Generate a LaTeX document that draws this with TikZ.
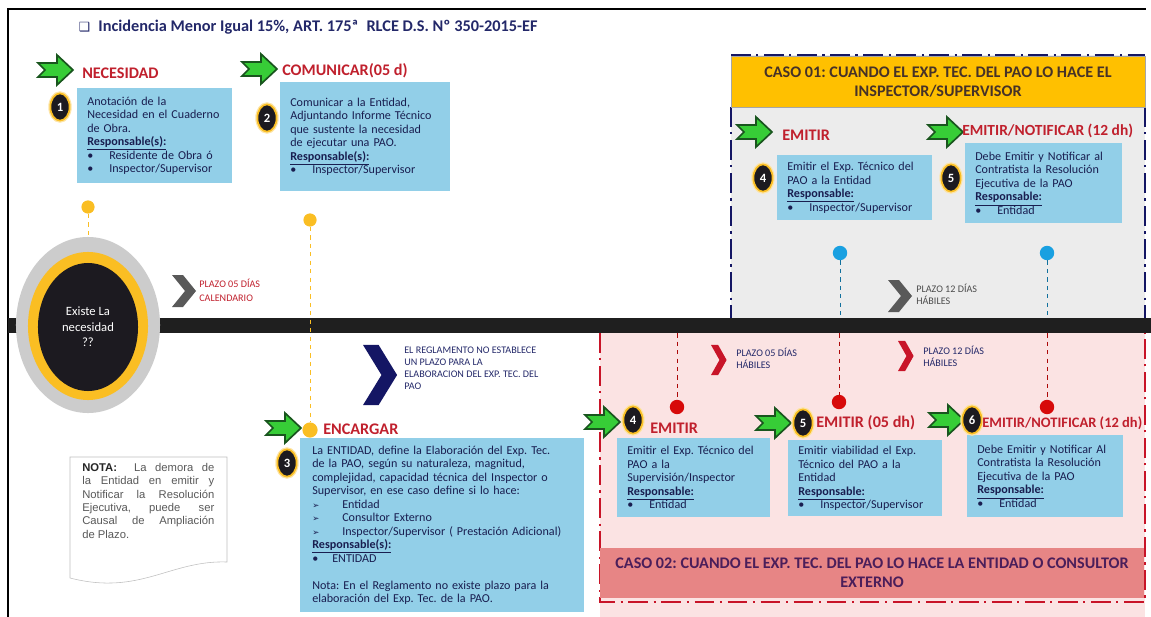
\documentclass[tikz,border=0pt]{standalone}
\usepackage{fontspec}
\setmainfont{Carlito}
\newfontfamily\arialfont{Liberation Sans}
\newfontfamily\dejavu{DejaVu Sans}
\usepackage{tikz}
\usetikzlibrary{shapes.geometric,calc}
\AtBeginDocument{\frenchspacing}

\definecolor{cajaazul}{RGB}{146,207,232}
\definecolor{textonavy}{RGB}{25,30,80}
\definecolor{rojotitulo}{RGB}{192,32,45}
\definecolor{azultitulo}{RGB}{35,40,105}
\definecolor{naranja}{RGB}{255,192,0}
\definecolor{fondogris}{RGB}{236,236,236}
\definecolor{fondorosa}{RGB}{251,227,227}
\definecolor{salmon}{RGB}{231,133,133}
\definecolor{azuloscuro}{RGB}{20,22,100}
\definecolor{rojoborde}{RGB}{200,20,40}
\definecolor{puntoazul}{RGB}{25,160,225}
\definecolor{puntorojo}{RGB}{215,10,10}
\definecolor{amarillo}{RGB}{250,190,35}
\definecolor{verdeflecha}{RGB}{55,205,55}
\definecolor{verdeoscuro}{RGB}{25,85,30}
\definecolor{oscuro}{RGB}{28,26,32}
\definecolor{cafe}{RGB}{70,50,40}
\definecolor{morado}{RGB}{75,30,90}

\newcommand{\itm}[1]{\makebox[0.55cm][l]{•}#1}
\newcommand{\flechita}[1]{\makebox[0.75cm][l]{{\dejavu\fontsize{6}{8}\selectfont ➢}}#1}
\newcommand{\resp}[1]{\textbf{\underline{#1}}}

\tikzset{
  caja/.style={fill=cajaazul, text=textonavy, font=\fontsize{8.6}{9.6}\selectfont,
    align=left, anchor=north west, inner xsep=0.25cm, inner ysep=0pt, text width=#1},
  etiqueta/.style={anchor=west, text=rojotitulo, inner sep=0pt,
    font=\fontsize{11.5}{13}\bfseries\selectfont},
  num/.style={ellipse, fill=oscuro, draw=amarillo, line width=1.2pt,
    preaction={draw=amarillo!40, line width=3pt}, text=white, inner sep=0pt,
    minimum width=0.48cm, minimum height=0.68cm, font=\fontsize{9}{10}\bfseries\selectfont},
  punto/.style={circle, fill=#1, inner sep=0pt, minimum size=0.36cm},
  guia/.style={draw=#1, dashed, line width=0.6pt},
  borde/.style={draw=#1, line width=2pt, dash pattern=on 14pt off 4pt on 1.5pt off 4pt},
  plazo/.style={anchor=west, align=left, inner sep=0pt, text=#1,
    font=\fontsize{7.2}{8.5}\selectfont},
  caso/.style={fill=#1, minimum height=1.27cm, inner sep=0pt, align=center,
    font=\fontsize{11.5}{13.5}\bfseries\selectfont},
  pics/flecha/.style={code={
    \filldraw[fill=verdeflecha, draw=verdeoscuro, line width=1.2pt, line join=miter]
      (0,-7) -- (19,-7) -- (19,-15) -- (35,0) -- (19,15) -- (19,7) -- (0,7) -- (7,0) -- cycle;}},
  pics/chevron/.style={code={
    \fill[#1] (0,-16) -- (11,-16) -- (24,0) -- (11,16) -- (0,16) -- (13,0) -- cycle;}},
}

\begin{document}
\begin{tikzpicture}[x=0.025cm,y=-0.025cm]
\useasboundingbox (0,0) rectangle (1151,617);

% Frame and title
\draw[line width=1pt] (8,617) -- (8,9) -- (1146,9);
\node[anchor=west, text=azultitulo, font=\fontsize{11.6}{13}\bfseries\selectfont] (titulo) at (74,27)
  {{\dejavu\mdseries\fontsize{9}{10}\selectfont ❑}\enspace Incidencia Menor Igual 15\%, ART. 175ª\enspace RLCE D.S. Nº 350-2015-EF};

% Case areas
\fill[fondogris] (731,55) rectangle (1145,318);
\fill[fondorosa] (600,333) rectangle (1145,617);
\draw[borde=azuloscuro] (731,55) -- (1145,55);
\draw[borde=azuloscuro] (731,107) -- (731,318);
\draw[borde=azuloscuro] (1145,107) -- (1145,318);
\draw[borde=rojoborde] (600,333) -- (600,602) -- (1145,602) -- (1145,333);
\node[caso=naranja, draw=gray!70, text=cafe, minimum width=10.35cm] (caso1) at (938,82)
  {CASO 01: CUANDO EL EXP. TEC. DEL PAO LO HACE EL\\INSPECTOR/SUPERVISOR};
\node[caso=salmon, text=morado, minimum width=13.6cm] (caso2) at (872,573)
  {CASO 02: CUANDO EL EXP. TEC. DEL PAO LO HACE LA ENTIDAD O CONSULTOR\\EXTERNO};

% Timeline
\node[fill=black!88, anchor=west, inner sep=0pt, minimum width=28.575cm, minimum height=0.375cm] (barra) at (8,325.5) {};
\node[ellipse, fill=gray!40, inner sep=0pt, minimum width=3.6cm, minimum height=4.4cm] (ovalo) at (88,325) {};
\node[ellipse, fill=amarillo, inner sep=0pt, minimum width=3cm, minimum height=3.7cm] (anillo) at (88,326) {};
\node[ellipse, fill=oscuro, inner sep=0pt, minimum width=2.5cm, minimum height=3.2cm, text=white, align=center,
  font=\fontsize{9}{11}\selectfont] (centro) at (88,327) {Existe La\\necesidad\\??};

% Dots
\node[punto=amarillo, minimum size=0.33cm] (p1) at (88,207) {};
\node[punto=amarillo, minimum size=0.33cm] (p2) at (310,220) {};
\node[punto=amarillo, minimum size=0.38cm] (p3) at (310,430) {};
\node[punto=puntoazul] (b1) at (840,253) {};
\node[punto=puntoazul] (b2) at (1047,253) {};
\node[punto=puntorojo] (r1) at (677,407) {};
\node[punto=puntorojo] (r2) at (839,402) {};
\node[punto=puntorojo] (r3) at (1047,407) {};
\draw[guia=amarillo] (p1) -- (ovalo);
\draw[guia=amarillo] (p2) -- (p3);
\foreach \p in {b1,b2}
  \draw[guia=puntoazul!70!black] (\p) -- (\p |- barra.north);
\foreach \p in {r1,r2,r3}
  \draw[guia=puntorojo!80!black] (\p |- barra.south) -- (\p);

% Plazos
\pic at (172,291) {chevron={black!65}};
\node[plazo=rojotitulo, font=\fontsize{7.2}{10}\selectfont] (plazo1) at (199,290) {PLAZO 05 DÍAS\\CALENDARIO};
\pic at (888,296) {chevron={black!65}};
\node[plazo=black!70] (plazo2) at (916,294) {PLAZO 12 DÍAS\\HÁBILES};
\pic[xscale=0.65,yscale=0.94] at (711,360) {chevron={rojoborde}};
\node[plazo=azultitulo] (plazo3) at (736,358) {PLAZO 05 DÍAS\\HÁBILES};
\pic[xscale=0.65,yscale=0.94] at (898,356) {chevron={rojoborde}};
\node[plazo=azultitulo] (plazo4) at (923,356) {PLAZO 12 DÍAS\\HÁBILES};
\pic[xscale=1.42,yscale=1.88] at (363,375) {chevron={azuloscuro}};
\node[plazo=azultitulo] (plazo5) at (404,368)
  {EL REGLAMENTO NO ESTABLECE\\UN PLAZO PARA LA\\ELABORACION DEL EXP. TEC. DEL\\PAO};

% Step boxes
\node[caja=3.375cm, minimum height=2.375cm] (caja1) at (77,88)
  {Anotación de la\\Necesidad en el Cuaderno\\de Obra.\\\resp{Responsable(s):}\\\itm{Residente de Obra ó}\\\itm{Inspector/Supervisor}};
\node[caja=3.75cm, minimum height=2.725cm] (caja2) at (280,82)
  {Comunicar a la Entidad,\\Adjuntando Informe Técnico\\que sustente la necesidad\\de ejecutar una PAO.\\\resp{Responsable(s):}\\\itm{Inspector/Supervisor}};
\node[caja=6.5cm, minimum height=4.35cm, inner xsep=0.3cm] (caja3) at (300,438)
  {La ENTIDAD, define la Elaboración del Exp. Tec.\\de la PAO, según su naturaleza, magnitud,\\complejidad, capacidad técnica del Inspector o\\Supervisor, en ese caso define si lo hace:\\\flechita{Entidad}\\\flechita{Consultor Externo}\\\flechita{Inspector/Supervisor ( Prestación Adicional)}\\\resp{Responsable(s):}\\\makebox[0.5cm][l]{•}ENTIDAD\\[9.6pt]Nota: En el Reglamento no existe plazo para la\\elaboración del Exp. Tec. de la PAO.};
\node[caja=3.375cm, minimum height=1.625cm] (caja4s) at (777,155)
  {Emitir el Exp. Técnico del\\PAO a la Entidad\\\resp{Responsable:}\\\itm{Inspector/Supervisor}};
\node[caja=3.425cm, minimum height=2cm] (caja5s) at (965,143)
  {Debe Emitir y Notificar al\\Contratista la Resolución\\Ejecutiva de la PAO\\\resp{Responsable:}\\\itm{Entidad}};
\node[caja=3.325cm, minimum height=1.975cm] (caja4i) at (617,438)
  {Emitir el Exp. Técnico del\\PAO a la\\Supervisión/Inspector\\\resp{Responsable:}\\\itm{Entidad}};
\node[caja=3.35cm, minimum height=1.9cm] (caja5i) at (788,440)
  {Emitir viabilidad el Exp.\\Técnico del PAO a la\\Entidad\\\resp{Responsable:}\\\itm{Inspector/Supervisor}};
\node[caja=3.4cm, minimum height=2.05cm] (caja6i) at (967,435)
  {Debe Emitir y Notificar Al\\Contratista la Resolución\\Ejecutiva de la PAO\\\resp{Responsable:}\\\itm{Entidad}};

% Arrows, numbers and titles
\pic at (38,70) {flecha};
\pic at (242,69) {flecha};
\pic at (266,428) {flecha};
\pic at (737,132) {flecha};
\pic at (928,132) {flecha};
\pic at (585,422) {flecha};
\pic at (756,423) {flecha};
\pic at (929,420) {flecha};
\node[num] (n1) at (60,107) {1};
\node[num] (n2) at (267,118) {2};
\node[num] (n3) at (287,463) {3};
\node[num] (n4s) at (763,178) {4};
\node[num] (n5s) at (951,178) {5};
\node[num] (n4i) at (633,420) {4};
\node[num] (n5i) at (803,423) {5};
\node[num] (n6i) at (972,420) {6};
\node[etiqueta] (t1) at (82,73) {NECESIDAD};
\node[etiqueta] (t2) at (282,71) {COMUNICAR(05 d)};
\node[etiqueta] (t3) at (323,429) {ENCARGAR};
\node[etiqueta] (t4s) at (782,135) {EMITIR};
\node[etiqueta, font=\fontsize{11}{13}\bfseries\selectfont] (t5s) at (962,131) {EMITIR/NOTIFICAR (12 dh)};
\node[etiqueta] (t4i) at (650,428) {EMITIR};
\node[etiqueta] (t5i) at (816,423) {EMITIR (05 dh)};
\node[etiqueta, font=\fontsize{10.3}{12}\bfseries\selectfont] (t6i) at (982,423) {EMITIR/NOTIFICAR (12 dh)};

% Note
\draw[gray!50, fill=white] (70,457) -- (227,457) -- (227,562) .. controls (170,560) and (140,596) .. (70,578) -- cycle;
\node[anchor=north west, text width=3.3cm, align=justify, inner sep=0pt, text=black!65,
  font=\arialfont\fontsize{8}{9.5}\selectfont] (nota) at (82,463)
  {\textcolor{black!85}{\textbf{NOTA:}}\ \ La demora de\linebreak la Entidad en emitir y\linebreak Notificar la Resolución\linebreak Ejecutiva, puede ser\linebreak Causal de Ampliación\linebreak de Plazo.};
\end{tikzpicture}
\end{document}
